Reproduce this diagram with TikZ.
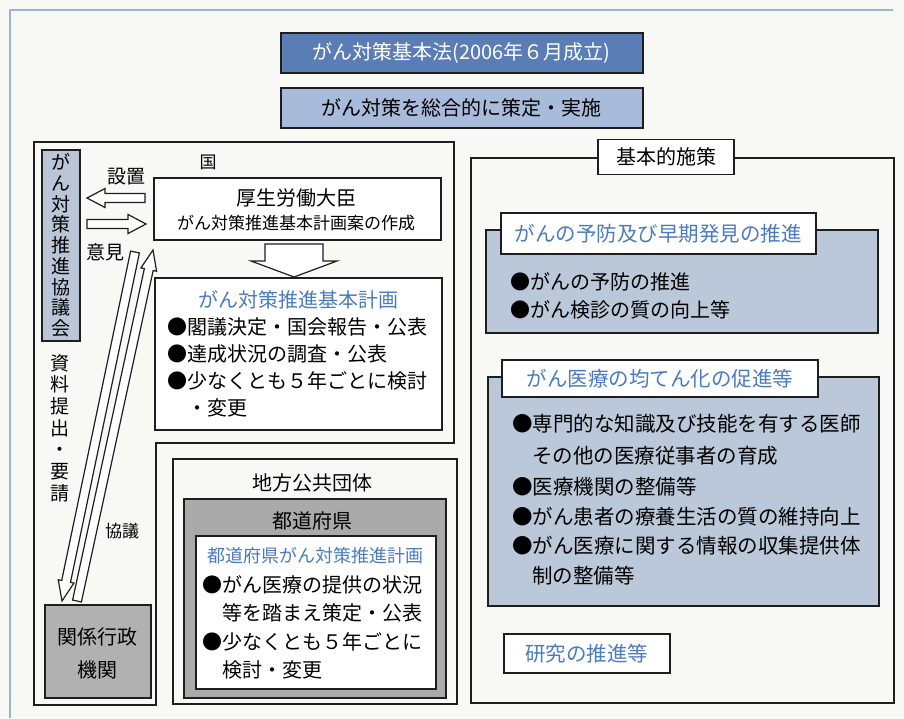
\documentclass[tikz,border=0pt]{standalone}
\usepackage{fontspec}
\setmainfont{Noto Sans CJK JP}
\usetikzlibrary{calc}
\definecolor{paper}{HTML}{F8F8F5}
\definecolor{lawblue}{HTML}{5A7DB6}
\definecolor{implblue}{HTML}{A9BBDB}
\definecolor{shadeblue}{HTML}{BAC8DA}
\definecolor{councilblue}{HTML}{BAC6D8}
\definecolor{titleblue}{HTML}{4A7BBF}
\definecolor{grayA}{HTML}{B1B1B1}
\definecolor{grayB}{HTML}{AAAAAA}
\definecolor{framec}{HTML}{9FB3CF}
\definecolor{linec}{HTML}{1E1E1E}
\newcommand{\fs}[1]{\fontsize{#1}{#1}\selectfont}
\newcommand{\hollowarrow}[5]{%
  \coordinate (haS) at (#1);
  \coordinate (haT) at (#2);
  \coordinate (haH) at ($(haT)!#5!(haS)$);
  \draw[arrowbody] ($(haS)!#3!90:(haT)$) -- ($(haH)!#3!-90:(haS)$) -- ($(haH)!#4!-90:(haS)$) -- (haT) -- ($(haH)!#4!90:(haS)$) -- ($(haH)!#3!90:(haS)$) -- ($(haS)!#3!-90:(haT)$) -- cycle;
}
\tikzset{
  boxline/.style={draw=linec, line width=1.5pt},
  rbox/.style={boxline, rectangle, inner sep=0pt, anchor=north west},
  txt/.style={inner sep=0pt, anchor=west, font=\fs{20}},
  ctxt/.style={inner sep=0pt, anchor=center, font=\fs{20}},
  bluetxt/.style={text=titleblue},
  arrowbody/.style={draw=linec, line width=1.2pt, fill=white, line join=miter},
}
\begin{document}
\begin{tikzpicture}[x=1pt,y=-1pt]
\fill[paper] (0,0) rectangle (904,718);
\useasboundingbox (0,0) rectangle (904,718);
% outer thin frame
\draw[framec, line width=1.2pt] (10,718) -- (10,10) -- (893,10);

% top boxes
\node[rbox, fill=lawblue, minimum width=362pt, minimum height=40pt] (law) at (280,32) {};
\node[ctxt, text=white] (lawtxt) at (law.center) {がん対策基本法(2006年６月成立)};
\node[rbox, fill=implblue, minimum width=362pt, minimum height=40pt] (impl) at (280,87) {};
\node[ctxt] (impltxt) at (impl.center) {がん対策を総合的に策定・実施};

% national L-shaped frame
\draw[boxline, line width=1.8pt] (34,142) -- (454,142) -- (454,443) -- (156,443) -- (156,705) -- (34,705) -- cycle;
\node[inner sep=0pt, font=\fs{17}] (kuni) at (208,162) {国};

% council
\node[rbox, fill=councilblue, minimum width=38pt, minimum height=191pt] (council) at (41,149) {};
\node[inner sep=0pt, align=center, font=\fontsize{19}{20.75}\selectfont] (counciltxt) at (council.center) {が\\ん\\対\\策\\推\\進\\協\\議\\会};

% minister
\node[rbox, fill=white, minimum width=287pt, minimum height=62pt] (minister) at (153,177) {};
\node[ctxt] (mintxt1) at (296,198) {厚生労働大臣};
\node[ctxt, font=\fs{17}] (mintxt2) at (296,223) {がん対策推進基本計画案の作成};

\node[inner sep=0pt, font=\fs{19}] (setchi) at (126,177) {設置};
\node[inner sep=0pt, font=\fs{19}] (iken) at (105,252) {意見};
\coordinate (setS) at (145,198);
\coordinate (setT) at (87,198);
\coordinate (ikS) at (87,224);
\coordinate (ikT) at (146,224);
\hollowarrow{setS}{setT}{4.5pt}{9.5pt}{18pt}
\hollowarrow{ikS}{ikT}{4.5pt}{9.5pt}{18pt}

% down arrow to plan
\coordinate (dS) at (294,244);
\coordinate (dT) at (294,277);
\hollowarrow{dS}{dT}{29pt}{43pt}{16pt}

% plan box
\node[rbox, fill=white, minimum width=287pt, minimum height=152pt] (plan) at (154,277) {};
\node[ctxt, bluetxt] (plantitle) at (298,300) {がん対策推進基本計画};
\node[txt] (p1) at (167,327) {●閣議決定・国会報告・公表};
\node[txt] (p2) at (167,354) {●達成状況の調査・公表};
\node[txt] (p3) at (167,381) {●少なくとも５年ごとに検討};
\node[txt] (p4) at (187,408) {・変更};

% diagonal arrows
\coordinate (diagDS) at (135,252);
\coordinate (diagDT) at (62,601);
\coordinate (diagUS) at (77,601);
\coordinate (diagUT) at (153,250);
\hollowarrow{diagDS}{diagDT}{4.5pt}{8pt}{20pt}
\hollowarrow{diagUS}{diagUT}{4.5pt}{8pt}{20pt}
\node[inner sep=0pt, align=center, font=\fontsize{19}{21.7}\selectfont] (shiryo) at (60,428) {資\\料\\提\\出\\・\\要\\請};
\node[inner sep=0pt, font=\fs{17}] (kyogi) at (122,531) {協議};

% related agencies
\node[rbox, fill=grayA, minimum width=106pt, minimum height=93pt] (agency) at (44,604) {};
\node[ctxt] (ag1) at (97,637) {関係行政};
\node[ctxt] (ag2) at (97,670) {機関};

% local government
\node[rbox, fill=paper, minimum width=284pt, minimum height=245pt] (local) at (172,458) {};
\node[ctxt] (localtxt) at (312,483) {地方公共団体};
\node[rbox, fill=grayB, minimum width=262pt, minimum height=199pt] (pref) at (183,498) {};
\node[ctxt] (preftxt) at (312,521) {都道府県};
\node[rbox, fill=white, minimum width=240pt, minimum height=153pt] (prefplan) at (195,535) {};
\node[ctxt, bluetxt, font=\fs{18}] (prefplantitle) at (315,556) {都道府県がん対策推進計画};
\node[txt] (q1) at (202,585) {●がん医療の提供の状況};
\node[txt] (q2) at (222,613) {等を踏まえ策定・公表};
\node[txt] (q3) at (202,642) {●少なくとも５年ごとに};
\node[txt] (q4) at (222,670) {検討・変更};

% basic measures
\node[rbox, fill=paper, minimum width=423pt, minimum height=545pt] (basic) at (470,157) {};
\node[rbox, fill=white, minimum width=136pt, minimum height=35pt, anchor=center] (basiclabel) at (666,157) {};
\node[ctxt] (basictxt) at (basiclabel.center) {基本的施策};

% box A
\node[rbox, fill=shadeblue, minimum width=392pt, minimum height=103pt] (boxA) at (485,229) {};
\node[rbox, fill=white, minimum width=315pt, minimum height=41pt] (boxAtitle) at (500,212) {};
\node[ctxt, bluetxt, font=\fs{20.5}] (boxAtxt) at (boxAtitle.center) {がんの予防及び早期発見の推進};
\node[txt] (a1) at (510,282) {●がんの予防の推進};
\node[txt] (a2) at (510,310) {●がん検診の質の向上等};

% box B
\node[rbox, fill=shadeblue, minimum width=391pt, minimum height=229pt] (boxB) at (487,376) {};
\node[rbox, fill=white, minimum width=316pt, minimum height=37pt] (boxBtitle) at (501,359) {};
\node[ctxt, bluetxt, font=\fs{20.5}] (boxBtxt) at (boxBtitle.center) {がん医療の均てん化の促進等};
\node[txt, font=\fs{20.5}] (b1) at (512,424) {●専門的な知識及び技能を有する医師};
\node[txt, font=\fs{20.5}] (b2) at (532,456) {その他の医療従事者の育成};
\node[txt, font=\fs{20.5}] (b3) at (512,487) {●医療機関の整備等};
\node[txt, font=\fs{20.5}] (b4) at (512,517) {●がん患者の療養生活の質の維持向上};
\node[txt, font=\fs{20.5}] (b5) at (512,546) {●がん医療に関する情報の収集提供体};
\node[txt, font=\fs{20.5}] (b6) at (532,576) {制の整備等};

% research
\node[rbox, fill=white, minimum width=166pt, minimum height=39pt] (research) at (503,633) {};
\node[ctxt, bluetxt, font=\fs{20.5}] (researchtxt) at (research.center) {研究の推進等};
\end{tikzpicture}
\end{document}
